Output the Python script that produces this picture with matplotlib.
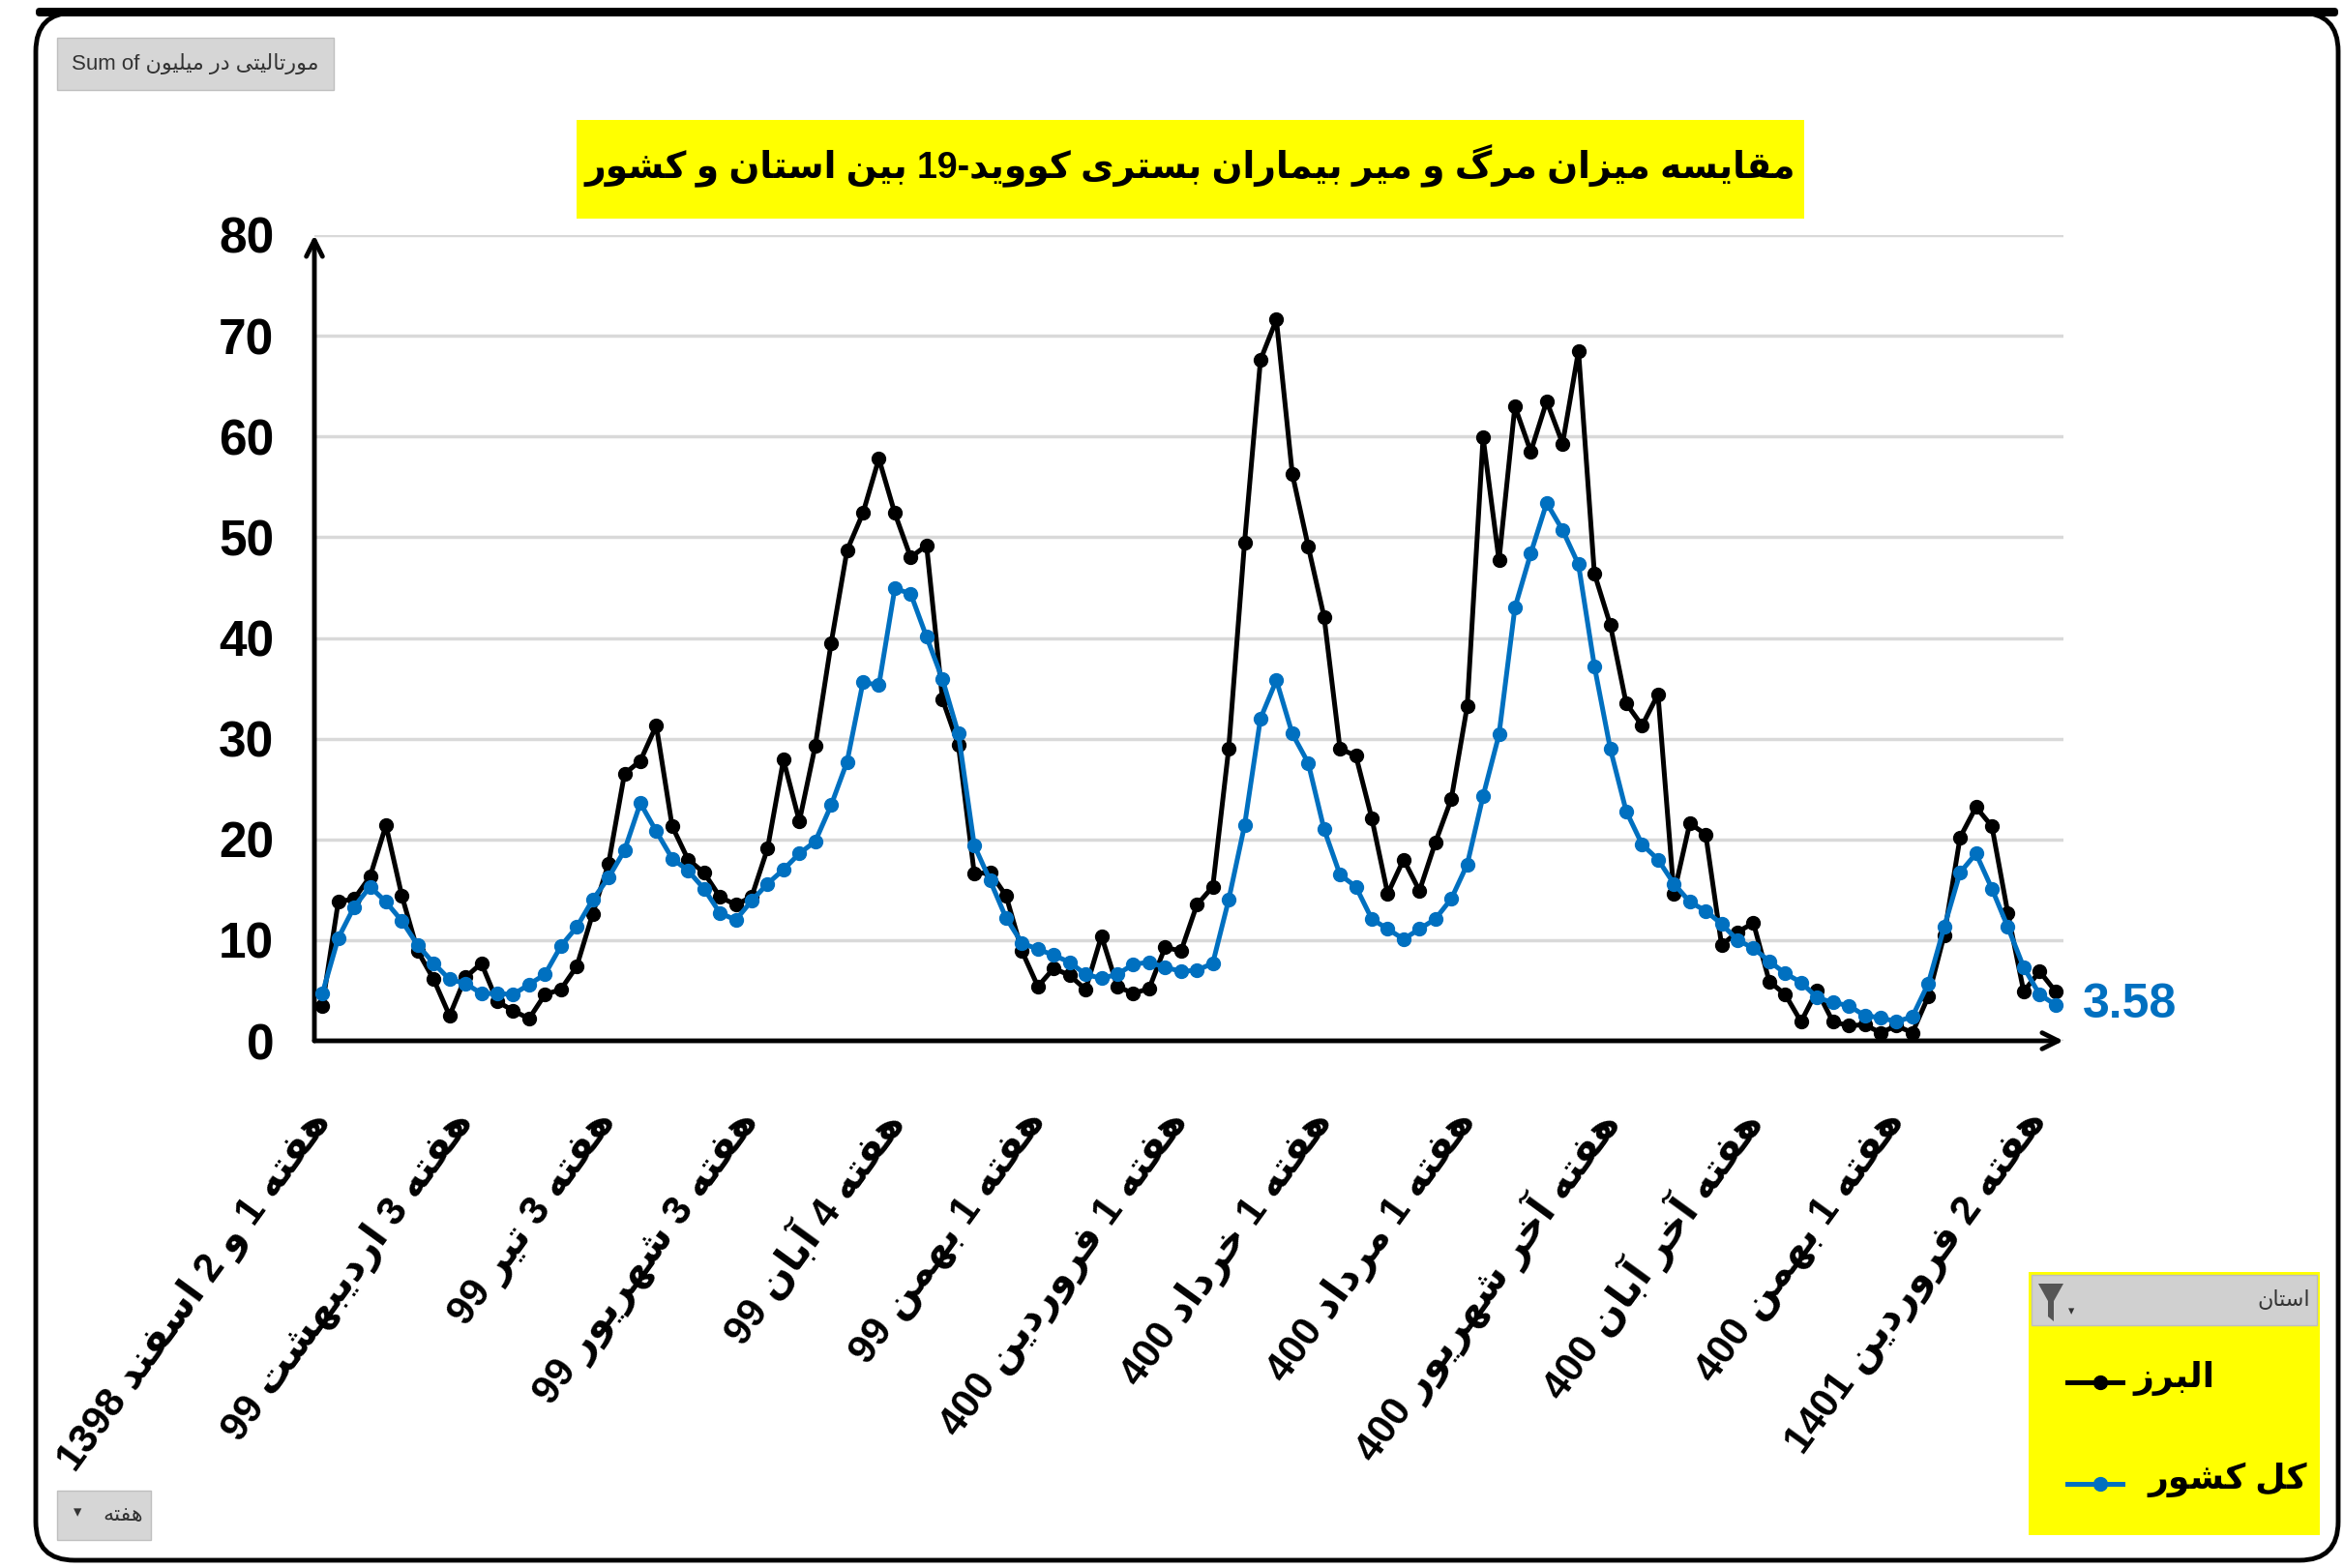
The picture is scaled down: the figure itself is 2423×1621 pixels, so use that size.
#!/usr/bin/env python3
"""
Weekly COVID-19 in-hospital mortality: Alborz province vs whole country
"""

import re
import matplotlib
matplotlib.use('Agg')
import matplotlib.pyplot as plt
from matplotlib.patches import FancyBboxPatch, Rectangle, Polygon
from matplotlib.lines import Line2D
from matplotlib.transforms import IdentityTransform

# weekly mortality per million
alborz = [3.5, 13.8, 14.1, 16.3, 21.4, 14.4, 8.9, 6.1, 2.5, 6.3,
          7.7, 3.9, 3.0, 2.2, 4.6, 5.1, 7.4, 12.6, 17.6, 26.5,
          27.8, 31.3, 21.3, 18.0, 16.7, 14.3, 13.5, 14.3, 19.1, 27.9,
          21.8, 29.3, 39.5, 48.7, 52.4, 57.8, 52.4, 48.0, 49.2, 33.9,
          29.4, 16.6, 16.7, 14.4, 8.9, 5.4, 7.2, 6.5, 5.1, 10.4,
          5.4, 4.7, 5.2, 9.3, 8.9, 13.5, 15.3, 29.0, 49.5, 67.6,
          71.6, 56.3, 49.1, 42.1, 29.0, 28.3, 22.1, 14.6, 18.0, 14.9,
          19.7, 24.0, 33.2, 59.9, 47.7, 63.0, 58.5, 63.5, 59.3, 68.5,
          46.4, 41.3, 33.5, 31.3, 34.4, 14.6, 21.6, 20.5, 9.5, 10.8,
          11.7, 5.9, 4.6, 1.9, 5.0, 1.9, 1.5, 1.6, 0.8, 1.5,
          0.8, 4.4, 10.5, 20.2, 23.2, 21.3, 12.7, 4.9, 6.9, 4.9]
country = [4.7, 10.2, 13.3, 15.3, 13.8, 11.9, 9.5, 7.7, 6.1, 5.7,
           4.7, 4.7, 4.6, 5.6, 6.6, 9.4, 11.3, 14.0, 16.2, 18.9,
           23.6, 20.8, 18.1, 16.9, 15.1, 12.7, 12.0, 13.9, 15.6, 17.0,
           18.6, 19.8, 23.4, 27.7, 35.6, 35.3, 44.9, 44.4, 40.1, 35.9,
           30.5, 19.4, 15.9, 12.2, 9.7, 9.1, 8.5, 7.8, 6.6, 6.2,
           6.6, 7.6, 7.8, 7.3, 6.9, 7.0, 7.7, 14.0, 21.4, 32.0,
           35.8, 30.5, 27.6, 21.0, 16.5, 15.3, 12.1, 11.1, 10.1, 11.1,
           12.1, 14.1, 17.5, 24.3, 30.4, 43.0, 48.4, 53.4, 50.7, 47.3,
           37.2, 29.0, 22.8, 19.5, 18.0, 15.6, 13.8, 12.9, 11.6, 10.0,
           9.2, 7.9, 6.7, 5.8, 4.3, 3.8, 3.5, 2.5, 2.3, 1.9,
           2.4, 5.7, 11.3, 16.7, 18.6, 15.1, 11.3, 7.3, 4.6, 3.58]

tick_every = 9
week_labels = ['هفته 1 و 2 اسفند 1398', 'هفته 3 اردیبهشت 99', 'هفته 3 تیر 99',
               'هفته 3 شهریور 99', 'هفته 4 آبان 99', 'هفته 1 بهمن 99',
               'هفته 1 فروردین 400', 'هفته 1 خرداد 400', 'هفته 1 مرداد 400',
               'هفته آخر شهریور 400', 'هفته آخر آبان 400', 'هفته 1 بهمن 400',
               'هفته 2 فروردین 1401']
y_ticks = [0, 10, 20, 30, 40, 50, 60, 70, 80]

title = 'مقایسه میزان مرگ و میر بیماران بستری کووید-19 بین استان و کشور'
series_names = ['البرز', 'کل کشور']
BLUE = '#0070C0'

# matplotlib has no Arabic shaping, so map letters to presentation forms
# (isolated, final, initial, medial) and lay the string out right-to-left
FORMS = {
    '\u0622': (0xFE81, 0xFE82), '\u0627': (0xFE8D, 0xFE8E),
    '\u0628': (0xFE8F, 0xFE90, 0xFE91, 0xFE92), '\u067E': (0xFB56, 0xFB57, 0xFB58, 0xFB59),
    '\u062A': (0xFE95, 0xFE96, 0xFE97, 0xFE98), '\u062E': (0xFEA5, 0xFEA6, 0xFEA7, 0xFEA8),
    '\u062F': (0xFEA9, 0xFEAA), '\u0631': (0xFEAD, 0xFEAE), '\u0632': (0xFEAF, 0xFEB0),
    '\u0633': (0xFEB1, 0xFEB2, 0xFEB3, 0xFEB4), '\u0634': (0xFEB5, 0xFEB6, 0xFEB7, 0xFEB8),
    '\u0641': (0xFED1, 0xFED2, 0xFED3, 0xFED4), '\u0642': (0xFED5, 0xFED6, 0xFED7, 0xFED8),
    '\u06A9': (0xFB8E, 0xFB8F, 0xFB90, 0xFB91), '\u0643': (0xFB8E, 0xFB8F, 0xFB90, 0xFB91),
    '\u06AF': (0xFB92, 0xFB93, 0xFB94, 0xFB95), '\u0644': (0xFEDD, 0xFEDE, 0xFEDF, 0xFEE0),
    '\u0645': (0xFEE1, 0xFEE2, 0xFEE3, 0xFEE4), '\u0646': (0xFEE5, 0xFEE6, 0xFEE7, 0xFEE8),
    '\u0647': (0xFEE9, 0xFEEA, 0xFEEB, 0xFEEC), '\u0648': (0xFEED, 0xFEEE),
    '\u06CC': (0xFBFC, 0xFBFD, 0xFBFE, 0xFBFF), '\u064A': (0xFBFC, 0xFBFD, 0xFBFE, 0xFBFF),
}


def rtl(s):
    out = []
    for i, ch in enumerate(s):
        f = FORMS.get(ch)
        if f is None:
            out.append(ch)
            continue
        prev = FORMS.get(s[i - 1]) if i > 0 else None
        nxt = FORMS.get(s[i + 1]) if i + 1 < len(s) else None
        a = prev is not None and len(prev) == 4
        b = nxt is not None and len(f) == 4
        k = 3 if (a and b) else 1 if a else 2 if b else 0
        out.append(chr(f[k]))
    runs = re.findall(r'[0-9.]+|[^0-9.]+', ''.join(out))
    return ''.join(r if r[0].isdigit() else r[::-1] for r in reversed(runs))


FONT = ['Liberation Sans', 'DejaVu Sans']
plt.rcParams['font.family'] = FONT

W, H = 2423, 1621
fig = plt.figure(figsize=(W / 100, H / 100), dpi=100)
px = IdentityTransform()


def box(x0, y0, x1, y1, **kw):
    # rectangle in image pixel coords (y down)
    r = Rectangle((x0, H - y1), x1 - x0, y1 - y0, transform=px, **kw)
    fig.patches.append(r)
    return r


def ftext(x, y, s, **kw):
    fig.text(x / W, 1 - y / H, s, **kw)


# outer frame
fig.patches.append(FancyBboxPatch((37, H - 1613), 2380, 1600,
                                  boxstyle='round,pad=0,rounding_size=40',
                                  transform=px, fill=False, ec='black', lw=3.5))
fig.patches.append(FancyBboxPatch((37, H - 17), 2380, 9,
                                  boxstyle='round,pad=0,rounding_size=4',
                                  transform=px, fc='black', ec='none'))

# plot area
x0, x1, yb, yt = 325, 2133, 1076, 243
ax = fig.add_axes([x0 / W, 1 - yb / H, (x1 - x0) / W, (yb - yt) / H])
n = len(alborz)
xs = list(range(n))

ax.plot(xs, alborz, color='black', lw=3.6, marker='o', ms=10, zorder=3)
ax.plot(xs, country, color=BLUE, lw=3.6, marker='o', ms=10, zorder=4)

ax.set_xlim(-0.5, n - 0.5)
ax.set_ylim(0, 80)
for s in ax.spines.values():
    s.set_visible(False)
ax.yaxis.grid(True, color='#d9d9d9', lw=2.5)
ax.set_axisbelow(True)

arrow = dict(arrowstyle='->', lw=3.5, color='black', mutation_scale=30,
             shrinkA=0, shrinkB=0)
ax.annotate('', xy=(0, 1.0), xytext=(0, 0), xycoords='axes fraction', arrowprops=arrow)
ax.annotate('', xy=(1.0, 0), xytext=(0, 0), xycoords='axes fraction', arrowprops=arrow)

ax.set_yticks(y_ticks, labels=[str(v) for v in y_ticks], fontsize=37, fontweight='bold')
ax.tick_params(axis='y', length=0, pad=30)

tick_pos = list(range(0, n, tick_every))
ax.set_xticks(tick_pos, labels=[rtl(l) for l in week_labels], fontsize=30,
              fontweight='bold', rotation=54, ha='right', va='center',
              rotation_mode='anchor')
ax.tick_params(axis='x', length=0, pad=55)

ax.annotate(f'{country[-1]:.2f}', xy=(n - 1, country[-1]), xytext=(20, 0),
            textcoords='offset points', color=BLUE, fontsize=36, fontweight='bold',
            va='center', ha='left', annotation_clip=False)

# title banner
box(596, 124, 1865, 226, fc='#FFFF00', ec='none')
ftext(1230, 172, rtl(title), fontsize=27, fontweight='bold', ha='center', va='center')

# pivot field buttons
box(59, 39, 345, 93, fc='#d6d6d6', ec='#bfbfbf', lw=1)
ftext(202, 66, 'Sum of ' + rtl('مورتالیتی در میلیون'), fontsize=16, color='#333333',
      ha='center', va='center')
box(59, 1541, 156, 1592, fc='#d6d6d6', ec='#bfbfbf', lw=1)
ftext(148, 1567, rtl('هفته'), fontsize=16, color='#333333', ha='right', va='center')
ftext(80, 1563, '\u25BE', fontsize=12, color='#333333', ha='center', va='center',
      family='DejaVu Sans')

# legend
box(2097, 1315, 2398, 1587, fc='#FFFF00', ec='none')
box(2100, 1318, 2395, 1370, fc='#d0d0d0', ec='#bdbdbd', lw=1)
ftext(2388, 1344, rtl('استان'), fontsize=16, color='#333333', ha='right', va='center')
fig.patches.append(Polygon([(2107, H - 1327), (2133, H - 1327), (2123, H - 1345),
                            (2123, H - 1366), (2117, H - 1361), (2117, H - 1345)],
                           closed=True, transform=px, fc='#555555', ec='none'))
ftext(2141, 1356, '\u25BE', fontsize=9, color='#333333', ha='center', va='center',
      family='DejaVu Sans')

for (ly, col, name, tx) in [(1429, 'black', series_names[0], 2205),
                            (1534, BLUE, series_names[1], 2220)]:
    fig.add_artist(Line2D([2137, 2194], [H - ly, H - ly], transform=px, color=col, lw=3.6))
    fig.add_artist(Line2D([2171], [H - ly], transform=px, color=col, marker='o', ms=10))
    ftext(tx, ly - 4, rtl(name), fontsize=26, fontweight='bold', ha='left', va='center')

fig.savefig('out.png', dpi=100, facecolor='white')
